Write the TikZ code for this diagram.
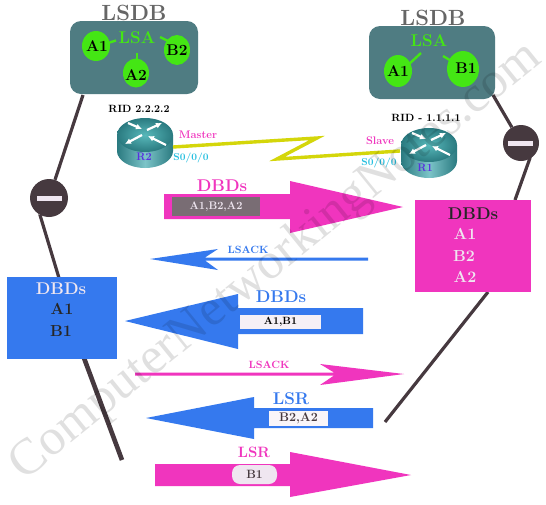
\documentclass[tikz,border=0pt]{standalone}
\usepackage{fontspec}
\newfontfamily\wmfont{Liberation Serif}
\definecolor{teal1}{HTML}{4F7C82}
\definecolor{grn}{HTML}{44E614}
\definecolor{blu}{HTML}{3579EE}
\definecolor{mag}{HTML}{F035BE}
\definecolor{dark}{HTML}{46393F}
\definecolor{yel}{HTML}{D4D60A}
\definecolor{cyn}{HTML}{28C0E0}
\definecolor{pur}{HTML}{5A2FE0}
\definecolor{pale}{HTML}{EFE6F0}
\definecolor{rtA}{HTML}{2A7A80}
\definecolor{rtB}{HTML}{7CC4C8}
\definecolor{rtC}{HTML}{45B0B2}
\newcommand{\fsz}[1]{\fontsize{#1}{#1}\selectfont\bfseries}
\newcommand{\routerart}[2]{%
 \begin{scope}[shift={(#1,#2)}]
  \path[left color=rtA,right color=rtA,middle color=rtB]
    (-28,0) -- (-28,16) arc[start angle=180,end angle=0,x radius=28,y radius=17] -- (28,0) -- cycle;
  \path[inner color=rtC!90!white,outer color=rtA] (0,0) ellipse[x radius=28,y radius=17];
  \draw[rtarrow] (-17,-12) -- (-3,-6);
  \draw[rtarrow] (2,-5) -- (17,-12);
  \draw[rtarrow] (-3,0) -- (-20,9);
  \draw[rtarrow] (21,10) -- (3,1);
 \end{scope}}
\tikzset{
 lnk/.style={draw=dark,line width=3.2pt},
 lnkb/.style={draw=dark,line width=4.6pt},
 serial/.style={draw=yel,line width=3.4pt,line join=miter},
 lsdbbox/.style={fill=teal1,rounded corners=11pt},
 lsa/.style={fill=grn,ellipse},
 tick/.style={draw=grn,line width=2.4pt},
 rtarrow/.style={draw=white,line width=2.2pt,-{Latex[length=6pt,width=6pt]}},
 txt/.style={inner sep=0pt,font=\fsz{#1}},
 txt/.default=17,
 minusdot/.style={fill=dark,circle,inner sep=0pt},
 wm/.style={inner sep=0pt,black,opacity=0.12,text opacity=0.12,rotate=39,font=\wmfont\fontsize{51}{51}\selectfont},
}
\usetikzlibrary{shapes.geometric,arrows.meta}
\begin{document}
\begin{tikzpicture}[x=1pt,y=-1pt]
\useasboundingbox (0,0) rectangle (546,504);
\fill[white] (0,0) rectangle (546,504);
% link anchor points
\coordinate (la) at (83,95);
\coordinate (lb) at (40,215);
\coordinate (lc) at (59,278);
\coordinate (ld) at (84,358);
\coordinate (le) at (122,460);
\coordinate (ra) at (493,95);
\coordinate (rb) at (530,158);
\coordinate (rc) at (515,200);
\coordinate (rd) at (488,292);
\coordinate (re) at (385,422);
\node[minusdot,minimum size=38pt] (ml) at (49,198) {};
\node[minusdot,minimum size=36pt] (mr) at (521,143) {};
\draw[lnk] (la) -- (ml);
\draw[lnk] (ml) -- (lb) -- (lc);
\draw[lnk] (ra) -- (mr);
\draw[lnk] (mr) -- (rb) -- (rc);
\draw[lnkb] (ld) -- (le);
\draw[lnk] (rd) -- (re);
\fill[pale] (36.5,195.5) rectangle (62,200.5);
\fill[pale] (508,141) rectangle (533,145.5);
% LSDB left
\node[txt=22,text=black!60] (t1) at (134,13) {LSDB};
\fill[lsdbbox] (70,21) rectangle (198,94);
\node[txt=17,text=grn] (lsa1) at (137,38) {LSA};
\draw[tick] (108,43) -- (116,40.5);
\draw[tick] (160,37) -- (170,42);
\draw[tick] (137,53) -- (137,63);
\node[lsa,minimum width=28pt,minimum height=30pt,inner sep=0pt] (a1) at (96,46) {};
\node[lsa,minimum width=26pt,minimum height=30pt,inner sep=0pt] (b2) at (177,50) {};
\node[lsa,minimum width=26pt,minimum height=29pt,inner sep=0pt] (a2) at (136,73) {};
\node[txt=15.5] (ta1) at (97,46) {A1};
\node[txt=15.5] (tb2) at (177,50) {B2};
\node[txt=15.5] (ta2) at (136,75) {A2};
% LSDB right
\node[txt=22,text=black!60] (t2) at (433,18) {LSDB};
\fill[lsdbbox] (369,26) rectangle (495,99);
\node[txt=17,text=grn] (lsa2) at (429,41) {LSA};
\draw[tick] (421,53) -- (408,65);
\draw[tick] (443,56) -- (453,62);
\node[lsa,minimum width=28pt,minimum height=32pt,inner sep=0pt] (a1r) at (398,71) {};
\node[lsa,minimum width=32pt,minimum height=36pt,inner sep=0pt] (b1r) at (463,69) {};
\node[txt=15.5] (ta1r) at (398,71) {A1};
\node[txt=15.5] (tb1r) at (466,68) {B1};
% routers
\routerart{145}{135}
\routerart{429}{145}
\coordinate (s1) at (173,147);
\coordinate (s2) at (317,138);
\coordinate (s3) at (277,159);
\coordinate (s4) at (400,151);
\draw[serial] (s1) -- (s2) -- (s3) -- (s4);
\node[txt=10.5] (rid2) at (139,109) {RID 2.2.2.2};
\node[txt=10.5] (rid1) at (426,118) {RID - 1.1.1.1};
\node[txt=11,text=pur] (r2) at (144,157) {R2};
\node[txt=11,text=pur] (r1) at (425,168) {R1};
\node[txt=11,text=mag] (master) at (198,135) {Master};
\node[txt=11,text=mag] (slave) at (380,141) {Slave};
\node[txt=10,text=cyn] (if2) at (191,158) {S0/0/0};
\node[txt=10,text=cyn] (if1) at (379,163) {S0/0/0};
% DBDs arrow 1
\fill[mag] (164,194) -- (290,194) -- (290,181) -- (403,207) -- (290,233) -- (290,219) -- (164,219) -- cycle;
\node[txt=17,text=mag] (d1) at (222,186) {DBDs};
\node[fill=pale!30!dark,minimum width=88pt,minimum height=19pt,inner sep=0pt,text=pale,font=\fsz{11}] (p1) at (216,206.5) {A1,B2,A2};
% LSACK blue
\fill[blu] (368,257.5) -- (205,257.5) -- (218,249) -- (150,259) -- (218,270) -- (205,260.5) -- (368,260.5) -- cycle;
\node[txt=10.5,text=blu] (l1) at (248,250) {LSACK};
% DBDs blue
\fill[blu] (363,308) -- (238,308) -- (238,294) -- (125,321) -- (238,349) -- (238,334) -- (363,334) -- cycle;
\node[txt=17,text=blu] (d2) at (281,297) {DBDs};
\node[fill=pale!60!white,minimum width=81pt,minimum height=14pt,inner sep=0pt,font=\fsz{10.5}] (p2) at (280.5,322) {A1,B1};
% LSACK magenta
\fill[mag] (135,372.5) -- (334,372.5) -- (320,364) -- (404,374) -- (320,385) -- (334,375.5) -- (135,375.5) -- cycle;
\node[txt=10.5,text=mag] (l2) at (269,365) {LSACK};
% LSR blue
\fill[blu] (373,408) -- (254,408) -- (254,397) -- (146,418) -- (254,439) -- (254,428) -- (373,428) -- cycle;
\node[txt=17,text=blu] (d3) at (291,399) {LSR};
\node[fill=pale!40!white,minimum width=59pt,minimum height=15pt,inner sep=0pt,text=dark,font=\fsz{12.5}] (p3) at (298.5,418.5) {B2,A2\hspace{6pt}};
% LSR magenta
\fill[mag] (155,464) -- (290,464) -- (290,452) -- (411,475) -- (290,497) -- (290,486) -- (155,486) -- cycle;
\node[txt=15,text=mag] (d4) at (254,452) {LSR};
\node[fill=pale,rounded corners=8pt,minimum width=45pt,minimum height=19pt,inner sep=0pt,text=dark,font=\fsz{12}] (p4) at (254.5,474.5) {B1};
% boxes
\fill[blu] (7,277) rectangle (117,359);
\node[txt=17,text=pale] (bl0) at (61,289) {DBDs};
\node[txt=16,text=black!85] (bl1) at (62,309) {A1};
\node[txt=16,text=black!85] (bl2) at (61,331) {B1};
\fill[mag] (415,200) rectangle (531,292);
\node[txt=17,text=black!85] (br0) at (473,214) {DBDs};
\node[txt=16,text=pale] (br1) at (465,234) {A1};
\node[txt=16,text=pale] (br2) at (464,256) {B2};
\node[txt=16,text=pale] (br3) at (465,277) {A2};
% watermark
\node[wm] (mark) at (276,262) {ComputerNetworkingNotes.com};
\end{tikzpicture}
\end{document}
